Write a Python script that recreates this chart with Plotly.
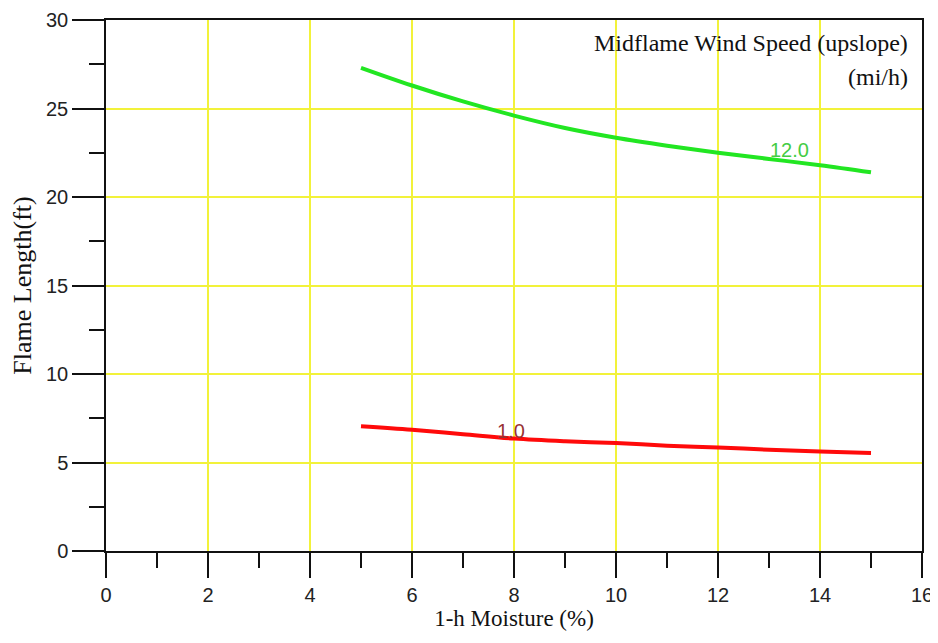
import plotly.graph_objects as go

moisture = [5, 6, 7, 8, 9, 10, 11, 12, 13, 14, 15]
flame_wind_12 = [27.3, 26.3, 25.4, 24.6, 23.9, 23.35, 22.9, 22.5, 22.15, 21.8, 21.4]
flame_wind_1 = [7.05, 6.85, 6.6, 6.35, 6.2, 6.1, 5.95, 5.85, 5.72, 5.62, 5.54]

series_labels = ["12.0", "1.0"]
label_x = [13.4, 7.95]
label_y = [22.65, 6.8]

fig = go.Figure()
fig.add_trace(go.Scatter(x=moisture, y=flame_wind_12, mode="lines",
                         line=dict(color="#22e622", width=4, shape="spline"),
                         showlegend=False, hoverinfo="skip"))
fig.add_trace(go.Scatter(x=moisture, y=flame_wind_1, mode="lines",
                         line=dict(color="#ff0a0a", width=4, shape="spline"),
                         showlegend=False, hoverinfo="skip"))

label_colors = ["#44cc44", "#993333"]
for t, lx, ly, c in zip(series_labels, label_x, label_y, label_colors):
    fig.add_annotation(x=lx, y=ly, text=t, showarrow=False,
                       font=dict(family="Liberation Sans, Arial", size=20, color=c))

serif = "Liberation Serif, Times New Roman"
fig.add_annotation(xref="paper", yref="paper", x=0.985, y=0.985, xanchor="right", yanchor="top",
                   text="Midflame Wind Speed (upslope)", showarrow=False,
                   font=dict(family=serif, size=24, color="#111"))
fig.add_annotation(xref="paper", yref="paper", x=0.985, y=0.92, xanchor="right", yanchor="top",
                   text="(mi/h)", showarrow=False,
                   font=dict(family=serif, size=24, color="#111"))

grid = "#f2f23a"
tickfont = dict(family="Liberation Sans, Arial", size=20, color="#222")
fig.update_xaxes(range=[0, 16], dtick=2, tick0=0, showgrid=True, gridcolor=grid, gridwidth=2,
                 ticks="outside", ticklen=25, tickcolor="#111", tickwidth=1.5,
                 minor=dict(dtick=1, ticks="outside", ticklen=15, tickcolor="#111", tickwidth=1.5,
                            showgrid=False),
                 showline=True, linecolor="#111", linewidth=1.5, mirror=True, zeroline=False,
                 automargin=False, tickfont=tickfont,
                 title=dict(text="1-h Moisture (%)", standoff=2,
                            font=dict(family=serif, size=23, color="#111")))
fig.update_yaxes(range=[0, 30], dtick=5, tick0=0, showgrid=True, gridcolor=grid, gridwidth=2,
                 ticks="outside", ticklen=32, tickcolor="#111", tickwidth=1.5,
                 minor=dict(dtick=2.5, ticks="outside", ticklen=15, tickcolor="#111", tickwidth=1.5,
                            showgrid=False),
                 showline=True, linecolor="#111", linewidth=1.5, mirror=True, zeroline=False,
                 automargin=False, tickfont=tickfont,
                 title=dict(text="Flame Length(ft)", standoff=12,
                            font=dict(family=serif, size=26, color="#111")))

fig.update_layout(template="none", width=930, height=635, margin=dict(l=98, r=16, t=12, b=92),
                  plot_bgcolor="white", paper_bgcolor="white")

fig.write_html("out.html")
